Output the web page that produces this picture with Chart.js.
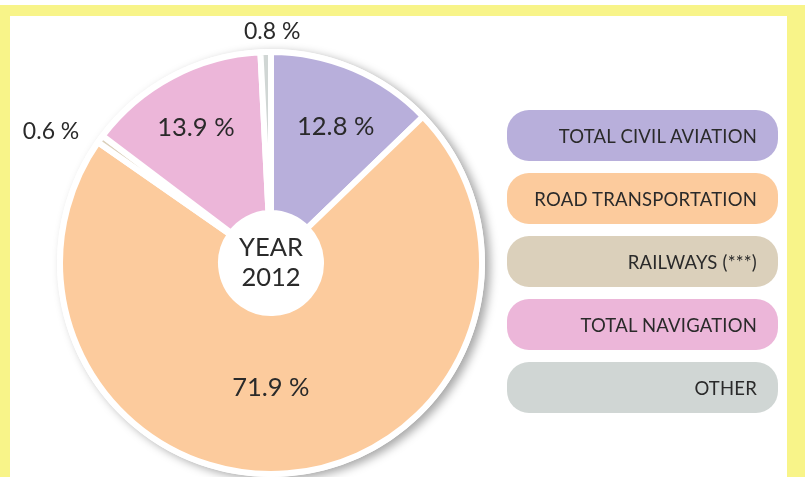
<!DOCTYPE html>
<html lang="en">
<head>
  <meta charset="UTF-8" />
  <title>Year 2012 share</title>
  <script src="https://cdn.jsdelivr.net/npm/chart.js"></script>
  <style>
    html, body {
      margin: 0;
      padding: 0;
      width: 805px;
      height: 477px;
      overflow: hidden;
      background: #ffffff;
      font-family: 'Lato', sans-serif;
    }

    .frame {
      position: absolute;
      left: 0;
      top: 5px;
      width: 805px;
      height: 480px;
      box-sizing: border-box;
      border-style: solid;
      border-color: #f8f489;
      border-width: 11px 18px 0 10px;
      background: #ffffff;
    }

    .chart-box {
      position: absolute;
      left: 0;
      top: 0;
      width: 805px;
      height: 477px;
    }

    .legend {
      position: absolute;
      left: 507px;
      top: 110px;
      width: 271px;
    }

    .legend .item {
      height: 51px;
      margin-bottom: 12px;
      border-radius: 22px;
      box-sizing: border-box;
      padding-right: 21px;
      display: flex;
      align-items: center;
      justify-content: flex-end;
      font-size: 18.5px;
      color: #2a2a2a;
      letter-spacing: 0.2px;
    }
  </style>
</head>
<body>
  <div class="frame"></div>
  <div class="chart-box"><canvas id="pie"></canvas></div>
  <div class="legend" id="legend"></div>

  <script>
    const categories = ["TOTAL CIVIL AVIATION", "ROAD TRANSPORTATION", "RAILWAYS (***)", "TOTAL NAVIGATION", "OTHER"];
    const shares = [12.8, 71.9, 0.6, 13.9, 0.8];
    const sliceColors = ["#b8afdb", "#fccb9d", "#dbd0bb", "#ecb6d9", "#d0d6d4"];
    const centerLines = ["YEAR", "2012"];

    // where each percent label sits: distance from centre and a small nudge
    const labelRadius = [150, 125, 257, 154, 231];
    const labelNudge = [[6, 2], [-10, 0], [-12, 20], [-3, 1], [7, 0]];

    const pieShadow = {
      id: "pieShadow",
      beforeDatasetsDraw(chart) {
        const arc = chart.getDatasetMeta(0).data[0];
        if (!arc) return;
        const ctx = chart.ctx;
        ctx.save();
        ctx.shadowColor = "rgba(0,0,0,0.35)";
        ctx.shadowBlur = 10;
        ctx.shadowOffsetX = 5;
        ctx.shadowOffsetY = 3;
        ctx.fillStyle = "#ffffff";
        ctx.beginPath();
        ctx.arc(arc.x, arc.y, arc.outerRadius + 3, 0, Math.PI * 2);
        ctx.fill();
        ctx.restore();
      }
    };

    const pieLabels = {
      id: "pieLabels",
      afterDatasetsDraw(chart) {
        const ctx = chart.ctx;
        const arcs = chart.getDatasetMeta(0).data;
        ctx.save();
        ctx.fillStyle = "#2a2a2a";
        ctx.textAlign = "center";
        ctx.textBaseline = "middle";
        arcs.forEach((arc, i) => {
          const mid = (arc.startAngle + arc.endAngle) / 2;
          const r = labelRadius[i];
          const x = arc.x + Math.cos(mid) * r + labelNudge[i][0];
          const y = arc.y + Math.sin(mid) * r + labelNudge[i][1];
          ctx.font = (r > 220 ? "23px" : "25.5px") + " Lato";
          ctx.fillText(shares[i].toFixed(1) + " %", x, y);
        });
        const c = arcs[0];
        ctx.font = "25.5px Lato";
        ctx.fillText(centerLines[0], c.x, c.y - 15);
        ctx.fillText(centerLines[1], c.x, c.y + 15);
        ctx.restore();
      }
    };

    const chart = new Chart(document.getElementById("pie"), {
      type: "doughnut",
      data: {
        labels: categories,
        datasets: [{
          data: shares,
          backgroundColor: sliceColors,
          borderColor: "#ffffff",
          borderWidth: 6,
          hoverOffset: 0
        }]
      },
      options: {
        responsive: true,
        maintainAspectRatio: false,
        animation: false,
        radius: 211,
        cutout: 50,
        rotation: 0,
        layout: { padding: { left: 0, right: 263, top: 49, bottom: 0 } },
        plugins: {
          legend: { display: false },
          tooltip: { enabled: false }
        }
      },
      plugins: [pieShadow, pieLabels]
    });

    // legend pills built from the chart's own labels and colours
    const legendEl = document.getElementById("legend");
    chart.data.labels.forEach((label, i) => {
      const item = document.createElement("div");
      item.className = "item";
      item.style.background = chart.data.datasets[0].backgroundColor[i];
      item.textContent = label;
      legendEl.appendChild(item);
    });
  </script>
</body>
</html>
